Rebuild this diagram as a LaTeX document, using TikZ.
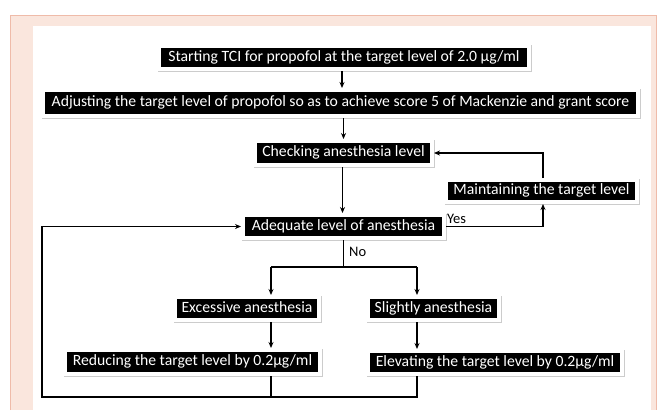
\documentclass[tikz,border=0pt]{standalone}
\usepackage{fontspec}
\setmainfont{Carlito}
\usetikzlibrary{arrows.meta}
\definecolor{pinkbg}{HTML}{FAE6DD}
\definecolor{pinkline}{HTML}{EFBBA9}
\tikzset{
  fbox/.style={fill=black, text=white, inner sep=0pt,
    font=\fontsize{15.7}{18}\selectfont, text height=10.5pt, text depth=3pt,
    outer sep=4pt,
    preaction={draw=black!20, line width=8pt, transform canvas={shift={(1pt,-1pt)}}},
    preaction={draw=white, line width=8pt}},
  arr/.style={-{Stealth[length=6pt,width=5pt]}, line width=1.3pt},
  ln/.style={line width=1.3pt},
  lbl/.style={font=\fontsize{14.5}{16}\selectfont, inner sep=0pt}
}
\begin{document}
\begin{tikzpicture}[x=1pt,y=-1pt]
\useasboundingbox (0,0) rectangle (660,410);
% frame
\fill[pinkbg] (10,15) rectangle (657,410);
\draw[pinkline, line width=1pt] (10.5,410) -- (10.5,15.5) -- (656.5,15.5) -- (656.5,410);
\fill[white] (33,26) rectangle (651,410);
% boxes
\node[fbox, minimum width=366pt, minimum height=19pt] (b1) at (344,57.5) {Starting TCI for propofol at the target level of 2.0 µg/ml};
\node[fbox, minimum width=591pt, minimum height=22pt] (b2) at (340.5,103) {Adjusting the target level of propofol so as to achieve score 5 of Mackenzie and grant score};
\node[fbox, minimum width=173pt, minimum height=20pt] (b3) at (343.5,153) {Checking anesthesia level};
\node[fbox, minimum width=187pt, minimum height=18pt] (mt) at (541.5,191) {Maintaining the target level};
\node[fbox, minimum width=197pt, minimum height=19pt] (b4) at (343.5,226.5) {Adequate level of anesthesia};
\node[fbox, minimum width=140pt, minimum height=19pt] (ex) at (247,308.5) {Excessive anesthesia};
\node[fbox, minimum width=127pt, minimum height=19pt] (sl) at (433.5,308.5) {Slightly anesthesia};
\node[fbox, minimum width=251pt, minimum height=20pt] (rd) at (192.5,362) {Reducing the target level by 0.2µg/ml};
\node[fbox, minimum width=250pt, minimum height=19pt] (el) at (495,362.5) {Elevating the target level by 0.2µg/ml};
% labels
\node[lbl, anchor=west] (yes) at (447,219) {Yes};
\node[lbl, anchor=west] (no) at (349,252) {No};
% helper coordinates
\coordinate (sp) at (343,267);
\coordinate (ea) at (271,267);
\coordinate (sa) at (417,267);
\coordinate (lp) at (42,397);
% connectors
\draw[arr] ([xshift=-2pt]b1.south) -- ([xshift=-2pt]b1.south |- b2.north);
\draw[arr] (b3.north |- b2.south) -- (b3.north);
\draw[arr] ([xshift=-1pt]b3.south) -- ([xshift=-1pt]b3.south |- b4.north);
\draw[arr] (b4.east) -| ([xshift=1.5pt]mt.south);
\draw[arr] ([xshift=1.5pt]mt.north) |- (b3.east);
\draw[ln] (b4.south) -- (b4.south |- sp);
\draw[ln] (ea) -- (sa);
\draw[arr] (ea) -- (ea |- ex.north);
\draw[arr] (sa) -- (sa |- sl.north);
\draw[arr] (ea |- ex.south) -- (ea |- rd.north);
\draw[arr] (sa |- sl.south) -- (sa |- el.north);
\draw[ln] (ea |- rd.south) -- (ea |- lp);
\draw[arr] (sa |- el.south) |- (lp) |- (b4.west);
\end{tikzpicture}
\end{document}
